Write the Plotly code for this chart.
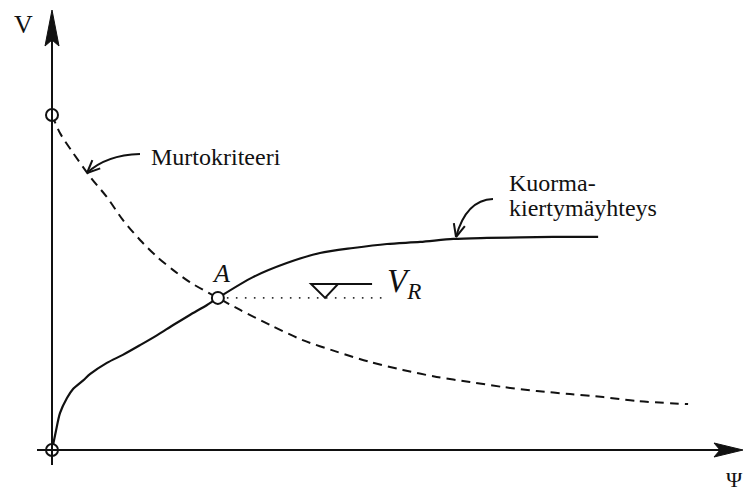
import math
import plotly.graph_objects as go

# Failure criterion (dashed): rotation psi vs. shear resistance V
psi_fail = [0.0, 0.125, 0.33, 0.60, 0.86, 1.11, 1.38, 1.65, 1.90, 2.16, 2.60,
            2.95, 3.42, 3.93, 4.47, 4.98, 5.50, 6.03, 6.55, 7.07, 7.60, 8.12,
            8.64, 9.17, 9.97]
v_fail = [10.0, 9.46, 8.87, 8.15, 7.55, 6.87, 6.27, 5.76, 5.37, 5.01, 4.54,
          4.18, 3.73, 3.28, 2.93, 2.63, 2.39, 2.18, 2.03, 1.88, 1.76, 1.67,
          1.58, 1.46, 1.37]

# Load-rotation relationship (solid)
psi_load = [0.0, 0.06, 0.125, 0.235, 0.33, 0.49, 0.60, 0.86, 1.11, 1.38, 1.65,
            1.90, 2.16, 2.43, 2.60, 3.15, 3.68, 4.20, 4.72, 5.25, 5.77, 6.29,
            6.82, 7.85, 8.56]
v_load = [0.0, 0.55, 1.10, 1.55, 1.82, 2.08, 2.27, 2.60, 2.84, 3.13, 3.43,
          3.73, 4.03, 4.33, 4.54, 5.16, 5.58, 5.88, 6.03, 6.15, 6.21, 6.30,
          6.33, 6.36, 6.36]

# Intersection A gives the resistance V_R
psi_A = 2.60
v_R = 4.54
psi_R_end = 5.19

# open circles: failure curve start, origin, point A
psi_pts = [0.0, 0.0, psi_A]
v_pts = [10.0, 0.0, v_R]

W, H = 744, 491
X0, Y0 = 52, 450          # origin position on the page (px)
SX, SY = 63.8, 33.5       # px per data unit
x_range = [-X0 / SX, (W - X0) / SX]
y_range = [(Y0 - H) / SY, Y0 / SY]


def d(xp, yp):
    """page pixel -> data coordinates"""
    return ((xp - X0) / SX, (Y0 - yp) / SY)


def p(x, y):
    """data coordinates -> page pixel"""
    return (X0 + x * SX, Y0 - y * SY)


INK = "#111111"
SERIF = "Times New Roman"

fig = go.Figure()

fig.add_trace(go.Scatter(x=psi_fail, y=v_fail, mode="lines",
                         line=dict(color=INK, width=2, dash="9px,6px",
                                   shape="spline", smoothing=0.8),
                         hoverinfo="skip"))
fig.add_trace(go.Scatter(x=psi_load, y=v_load, mode="lines",
                         line=dict(color=INK, width=2.2,
                                   shape="spline", smoothing=0.8),
                         hoverinfo="skip"))
fig.add_trace(go.Scatter(x=[psi_A, psi_R_end], y=[v_R, v_R], mode="lines",
                         line=dict(color="#333333", width=1.8, dash="1.6px,7.4px"),
                         hoverinfo="skip"))

shapes = []


def path_from_px(pts, close=False):
    s = ""
    for i, (xp, yp) in enumerate(pts):
        x, y = d(xp, yp)
        s += ("M" if i == 0 else " L") + f" {x:.4f},{y:.4f}"
    if close:
        s += " Z"
    return s


# axes (lines in data units, arrow heads filled)
ax_lo = d(0, 465)[1]
shapes.append(dict(type="line", xref="x", yref="y", x0=0, x1=0,
                   y0=ax_lo, y1=d(0, 36)[1], line=dict(color=INK, width=2)))
shapes.append(dict(type="line", xref="x", yref="y", x0=d(37, 0)[0],
                   x1=d(722, 0)[0], y0=0, y1=0, line=dict(color=INK, width=2)))

ox, oy = p(0, 0)
shapes.append(dict(type="path", xref="x", yref="y",
                   path=path_from_px([(ox, 10), (ox - 7, 46), (ox, 40),
                                      (ox + 7, 46)], close=True),
                   fillcolor=INK, line=dict(color=INK, width=1)))
shapes.append(dict(type="path", xref="x", yref="y",
                   path=path_from_px([(743, oy), (714, oy - 7), (720, oy),
                                      (714, oy + 7)], close=True),
                   fillcolor=INK, line=dict(color=INK, width=1)))


def curved_arrow(tail, ctrl, tip, barb=14, ang=24):
    t = d(*tail)
    c = d(*ctrl)
    h = d(*tip)
    shapes.append(dict(type="path", xref="x", yref="y",
                       path=f"M {t[0]:.4f},{t[1]:.4f} Q {c[0]:.4f},{c[1]:.4f} {h[0]:.4f},{h[1]:.4f}",
                       line=dict(color=INK, width=2)))
    vx, vy = tip[0] - ctrl[0], tip[1] - ctrl[1]
    n = math.hypot(vx, vy)
    vx, vy = vx / n, vy / n
    for s in (-1, 1):
        a = math.radians(ang * s)
        bx = -(vx * math.cos(a) - vy * math.sin(a)) * barb
        by = -(vx * math.sin(a) + vy * math.cos(a)) * barb
        shapes.append(dict(type="path", xref="x", yref="y",
                           path=path_from_px([tip, (tip[0] + bx, tip[1] + by)]),
                           line=dict(color=INK, width=2)))


curved_arrow((140, 154), (106, 155), (87, 173))
curved_arrow((493, 199), (466, 200), (456, 237))

# water-level style marker above the V_R line
tri_x = 4.28
tx, ty = p(tri_x, v_R)
shapes.append(dict(type="path", xref="x", yref="y",
                   path=path_from_px([(tx - 14, ty - 14), (tx + 13, ty - 14),
                                      (tx, ty)], close=True),
                   line=dict(color=INK, width=2), fillcolor="rgba(0,0,0,0)"))
shapes.append(dict(type="path", xref="x", yref="y",
                   path=path_from_px([(tx + 13, ty - 14), (tx + 47, ty - 14)]),
                   line=dict(color=INK, width=2)))

fig.add_trace(go.Scatter(x=psi_pts, y=v_pts, mode="markers",
                         marker=dict(symbol="circle", size=12, color="white",
                                     line=dict(color=INK, width=2)),
                         hoverinfo="skip"))

annotations = []


def label(xp, yp, text, size, xanchor="left"):
    x, y = d(xp, yp)
    annotations.append(dict(x=x, y=y, xref="x", yref="y", text=text,
                            showarrow=False, xanchor=xanchor, yanchor="middle",
                            font=dict(family=SERIF, size=size, color=INK)))


label(23, 24, "V", 26, xanchor="center")
label(734, 479, "Ψ", 22, xanchor="center")
label(149, 157, "Murtokriteeri", 24)
label(507, 183, "Kuorma-", 24)
label(507, 208, "kiertymäyhteys", 24)
label(221, 273, "<i>A</i>", 26, xanchor="center")
label(385, 283, "<i>V</i><sub><i>R</i></sub>", 33)

fig.update_layout(
    width=W, height=H,
    margin=dict(l=0, r=0, t=0, b=0),
    paper_bgcolor="white", plot_bgcolor="white",
    showlegend=False,
    font=dict(family=SERIF),
    xaxis=dict(range=x_range, visible=False, fixedrange=True),
    yaxis=dict(range=y_range, visible=False, fixedrange=True),
    shapes=shapes, annotations=annotations,
)

fig.write_html("out.html")
